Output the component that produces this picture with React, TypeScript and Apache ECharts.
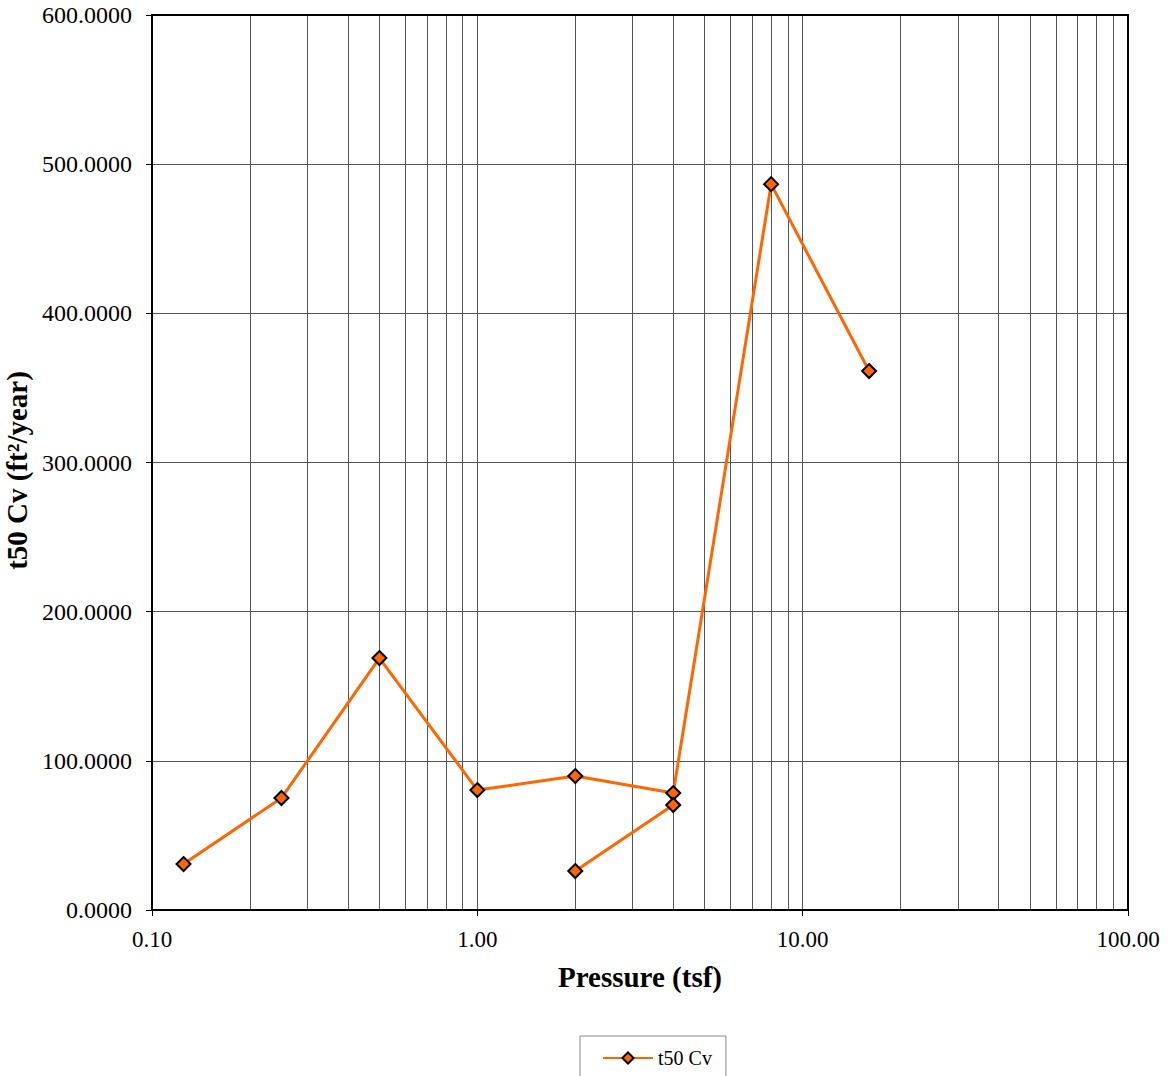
import React, { useEffect, useRef } from "react";
import * as echarts from "echarts";

const pressureMain = [0.125, 0.25, 0.5, 1, 2, 4, 8, 16];
const cvMain = [30.8, 75.1, 168.9, 80.4, 89.8, 78.4, 486.6, 361.3];
const pressureReload = [2, 4];
const cvReload = [26.1, 70.4];
const minorGridX = [0.2, 0.3, 0.4, 0.5, 0.6, 0.7, 0.8, 0.9, 2, 3, 4, 5, 6, 7, 8, 9, 20, 30, 40, 50, 60, 70, 80, 90];
const seriesName = "t50 Cv";

const FONT = "'Liberation Serif', 'Times New Roman', serif";
const ORANGE = "#FF6600";

export default function App() {
  const ref = useRef<HTMLDivElement>(null);
  useEffect(() => {
    if (!ref.current) return;
    const chart = echarts.init(ref.current, null, { renderer: "svg" });
    const markerStyle = { color: ORANGE, borderColor: "#000", borderWidth: 2 };
    chart.setOption({
      animation: false,
      backgroundColor: "#fff",
      grid: { left: 152, top: 15, right: 40, bottom: 166, containLabel: false, outerBoundsMode: "none" },
      legend: {
        left: 580,
        top: 1036,
        padding: [12, 14, 30, 22],
        borderColor: "#888",
        borderWidth: 1,
        itemWidth: 50,
        itemHeight: 14,
        itemGap: 4,
        data: [seriesName],
        textStyle: { fontFamily: FONT, fontSize: 20, color: "#000" },
      },
      xAxis: {
        type: "log",
        logBase: 10,
        min: 0.1,
        max: 100,
        name: "Pressure (tsf)",
        nameLocation: "middle",
        nameGap: 52,
        nameTextStyle: { fontFamily: FONT, fontSize: 29, fontWeight: "bold", color: "#000" },
        axisLine: { show: true, onZero: false, lineStyle: { color: "#000", width: 2 } },
        axisTick: { show: true, length: 6, lineStyle: { color: "#000" } },
        axisLabel: {
          fontFamily: FONT,
          fontSize: 23,
          color: "#000",
          margin: 18,
          formatter: (v: number) => v.toFixed(2),
        },
        splitLine: { show: true, lineStyle: { color: "#555", width: 1 } },
      },
      yAxis: {
        type: "value",
        min: 0,
        max: 600,
        interval: 100,
        name: "t50 Cv (ft²/year)",
        nameLocation: "middle",
        nameGap: 115,
        nameTextStyle: {
          fontFamily: FONT,
          fontSize: 29,
          fontWeight: "bold",
          color: "#000",
          padding: [0, 16, 0, 0],
        },
        axisLine: { show: true, lineStyle: { color: "#000", width: 2 } },
        axisTick: { show: true, length: 6, lineStyle: { color: "#000" } },
        axisLabel: {
          fontFamily: FONT,
          fontSize: 24,
          color: "#000",
          margin: 20,
          formatter: (v: number) => v.toFixed(4),
        },
        splitLine: { show: true, lineStyle: { color: "#555", width: 1 } },
      },
      series: [
        {
          name: seriesName,
          type: "line",
          data: pressureMain.map((p, i) => [p, cvMain[i]]),
          symbol: "diamond",
          symbolSize: 14,
          lineStyle: { color: ORANGE, width: 3 },
          itemStyle: markerStyle,
          z: 3,
          markLine: {
            silent: true,
            symbol: "none",
            label: { show: false },
            lineStyle: { color: "#555", width: 1, type: "solid" },
            data: minorGridX.map((v) => ({ xAxis: v })),
            z: 1,
          },
        },
        {
          name: seriesName,
          type: "line",
          data: pressureReload.map((p, i) => [p, cvReload[i]]),
          symbol: "diamond",
          symbolSize: 14,
          lineStyle: { color: ORANGE, width: 3 },
          itemStyle: markerStyle,
          z: 3,
        },
      ],
      graphic: [
        {
          type: "rect",
          shape: { x: 152, y: 15, width: 976, height: 895 },
          style: { fill: "none", stroke: "#000", lineWidth: 2 },
          silent: true,
          z: 10,
        },
      ],
    });
    return () => chart.dispose();
  }, []);
  return (
    <div
      ref={ref}
      style={{ position: "fixed", left: 0, top: 0, width: 1168, height: 1076, background: "#fff" }}
    />
  );
}
